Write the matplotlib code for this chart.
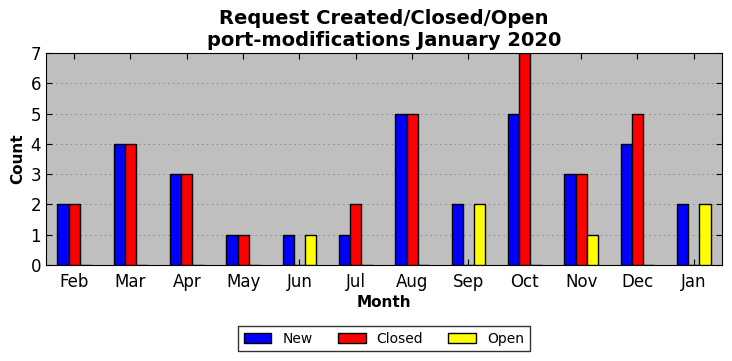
import numpy as np
import matplotlib
matplotlib.use('Agg')
import matplotlib.pyplot as plt

months = ['Feb', 'Mar', 'Apr', 'May', 'Jun', 'Jul', 'Aug', 'Sep', 'Oct', 'Nov', 'Dec', 'Jan']
new = [2, 4, 3, 1, 1, 1, 5, 2, 5, 3, 4, 2]
closed = [2, 4, 3, 1, 0, 2, 5, 0, 7, 3, 5, 0]
opened = [0, 0, 0, 0, 1, 0, 0, 2, 0, 1, 0, 2]

x = np.arange(len(months))
w = 0.2

fig = plt.figure(figsize=(7.32, 3.61), dpi=100)
ax = fig.add_axes([0.0628, 0.266, 0.9235, 0.587])
ax.set_facecolor('#bfbfbf')

ax.bar(x - w, new, w, color='blue', edgecolor='black', linewidth=1, label='New', zorder=3)
ax.bar(x, closed, w, color='red', edgecolor='black', linewidth=1, label='Closed', zorder=3)
ax.bar(x + w, opened, w, color='yellow', edgecolor='black', linewidth=1, label='Open', zorder=3)

ax.set_xlim(-0.5, len(months) - 0.5)
ax.set_ylim(0, 7)
ax.set_xticks(x)
ax.set_xticklabels(months)
ax.set_yticks(range(0, 8))
ax.tick_params(axis='both', direction='in', top=True, right=True, labelsize=12, length=4)
ax.tick_params(axis='x', pad=6)
ax.yaxis.grid(True, linestyle=(0, (1.5, 3.5)), color='#8a8a8a', linewidth=0.7)
ax.set_axisbelow(True)

ax.set_title('Request Created/Closed/Open\nport-modifications January 2020',
             fontsize=14, fontweight='bold', linespacing=1.2, pad=5)
ax.set_xlabel('Month', fontsize=11, fontweight='bold', labelpad=3)
ax.set_ylabel('Count', fontsize=11, fontweight='bold')

leg = ax.legend(loc='upper center', bbox_to_anchor=(0.5, -0.255), ncol=3, fontsize=10,
                fancybox=False, edgecolor='black', handlelength=2.0, columnspacing=1.8,
                borderpad=0.4, handletextpad=0.8)
leg.get_frame().set_linewidth(1)

fig.savefig('out.png', dpi=100)
